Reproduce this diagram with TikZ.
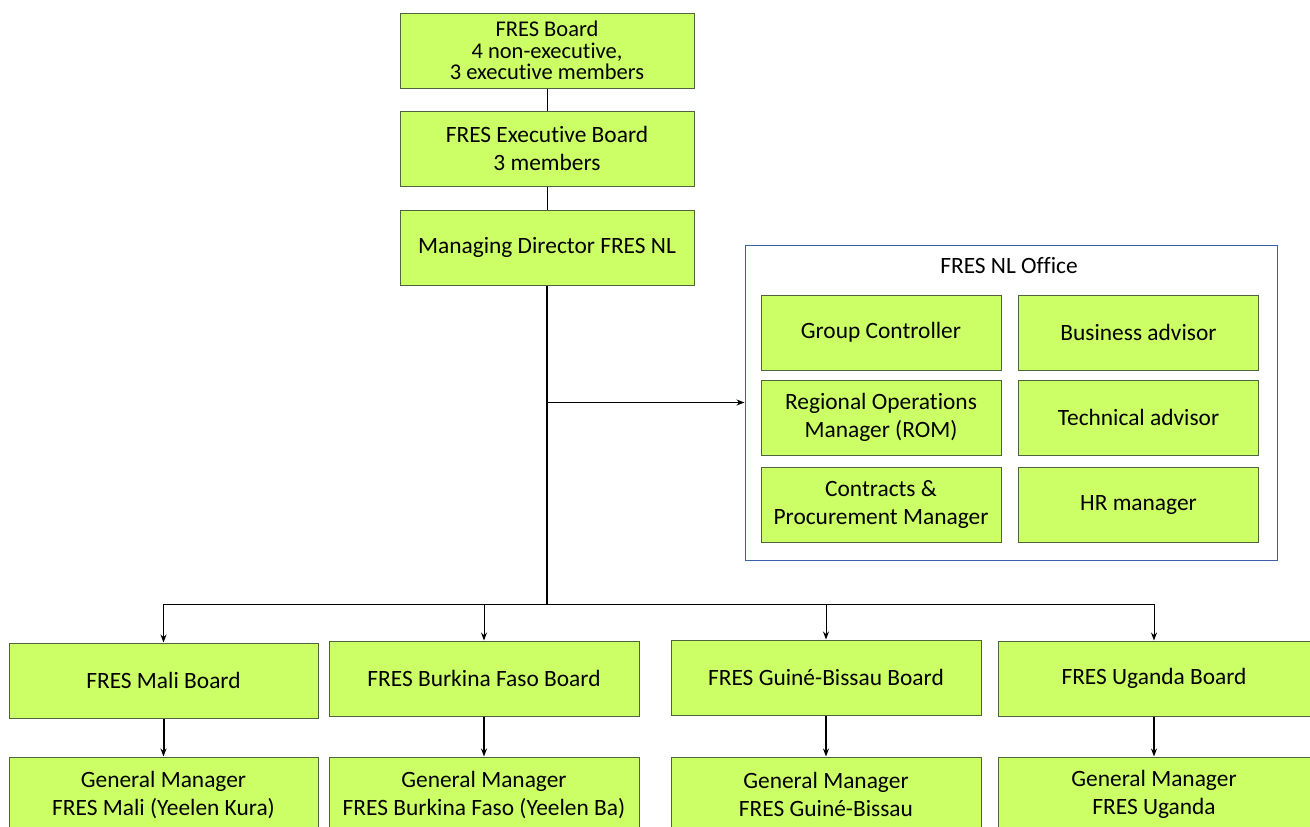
\documentclass[tikz,border=0pt]{standalone}
\usepackage{fontspec}
\setmainfont{Carlito}[Ligatures=NoCommon]
\usetikzlibrary{arrows.meta}
\definecolor{boxfill}{RGB}{204,255,102}
\definecolor{boxline}{RGB}{80,100,60}
\definecolor{officeline}{RGB}{60,95,170}
\tikzset{
    orgbox/.style={draw=boxline,fill=boxfill,line width=1pt,inner sep=0pt,
        minimum height=75,align=center,font=\fontsize{23.4}{28}\selectfont},
    tiparrow/.style={-{Stealth[length=8pt,width=6pt]}},
}
\begin{document}
\begin{tikzpicture}[x=1pt,y=-1pt]
        \useasboundingbox (0,0) rectangle (1310,827);
        \clip (0,0) rectangle (1310,827);
        %% top of the chain
        \node[orgbox,minimum width=294,font=\fontsize{22.5}{21.5}\selectfont] (board) at (547,50.5) {FRES Board\\4 non-executive,\\3 executive members};
        \node[orgbox,minimum width=294] (execboard) at (547,148.5) {FRES Executive Board\\3 members};
        \node[orgbox,minimum width=294] (director) at (547,247.5) {Managing Director FRES NL};
        \draw[line width=1pt] (board) -- (execboard);
        \draw[line width=1pt] (execboard) -- (director);
        %% NL office
        \node[draw=officeline,line width=1pt,minimum width=532,minimum height=315,inner sep=0pt] (office) at (1011,402.5) {};
        \node[font=\fontsize{23.4}{28}\selectfont] (officetitle) at (1009,266) {FRES NL Office};
        \node[orgbox,minimum width=240] (ctrl) at (881,332.5) {Group Controller};
        \node[orgbox,minimum width=240] (bizadv) at (1138.5,332.5) {Business advisor};
        \node[orgbox,minimum width=240] (rom) at (881,417.5) {Regional Operations\\Manager (ROM)};
        \node[orgbox,minimum width=240] (techadv) at (1138.5,417.5) {Technical advisor};
        \node[orgbox,minimum width=240] (cpm) at (881,504.5) {Contracts \&\\Procurement Manager};
        \node[orgbox,minimum width=240] (hrman) at (1138.5,504.5) {HR manager};
        %% country boards
        \node[orgbox,minimum width=309] (mali) at (163.5,680.5) {FRES Mali Board};
        \node[orgbox,minimum width=310] (burkina) at (484,678.5) {FRES Burkina Faso Board};
        \node[orgbox,minimum width=310] (guinea) at (826,677.5) {FRES Guiné-Bissau Board};
        \node[orgbox,minimum width=312] (uganda) at (1154,678.5) {FRES Uganda Board};
        \node[orgbox,minimum width=309] (gmmali) at (163.5,794.5) {General Manager\\FRES Mali (Yeelen Kura)};
        \node[orgbox,minimum width=310] (gmburkina) at (484,794.5) {General Manager\\FRES Burkina Faso (Yeelen Ba)};
        \node[orgbox,minimum width=310] (gmguinea) at (826,794.5) {General Manager\\FRES Guiné-Bissau};
        \node[orgbox,minimum width=312] (gmuganda) at (1154,794.5) {General Manager\\FRES Uganda};
        %% connectors
        \coordinate (hub) at (547,604);
        \draw[line width=1.2pt] (director) -- (hub);
        \draw[line width=1pt,tiparrow] (office.west -| director.south) -- (office.west);
        \draw[line width=1pt,tiparrow] (hub) -| (mali.north);
        \draw[line width=1pt,tiparrow] (hub) -| (burkina.north);
        \draw[line width=1pt,tiparrow] (hub) -| (guinea.north);
        \draw[line width=1pt,tiparrow] (hub) -| (uganda.north);
        \draw[line width=2pt,tiparrow] (mali) -- (gmmali);
        \draw[line width=2pt,tiparrow] (burkina) -- (gmburkina);
        \draw[line width=2pt,tiparrow] (guinea) -- (gmguinea);
        \draw[line width=2pt,tiparrow] (uganda) -- (gmuganda);
    \end{tikzpicture}
\end{document}
